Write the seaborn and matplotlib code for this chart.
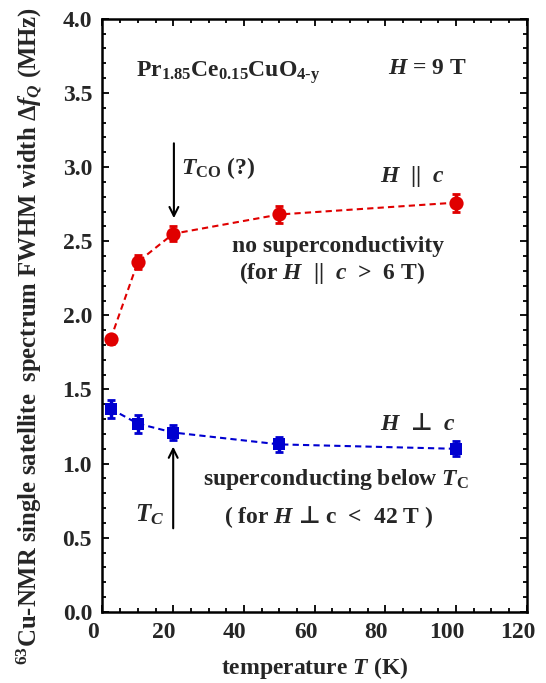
import numpy as np
import pandas as pd
import matplotlib
matplotlib.use("Agg")
import matplotlib.pyplot as plt
import matplotlib.transforms as mtransforms
from matplotlib.ticker import MultipleLocator
import seaborn as sns

# =========================================
# DATA
# =========================================

temp = [2.3, 10.0, 20.0, 50.0, 100.0]

width_par = [1.84, 2.36, 2.55, 2.68, 2.76]      # H || c
err_par = [0.03, 0.05, 0.05, 0.06, 0.06]

width_perp = [1.37, 1.27, 1.21, 1.13, 1.10]     # H perp c
err_perp = [0.06, 0.06, 0.05, 0.05, 0.05]

red = "#e00000"
blue = "#0000d0"

df = pd.DataFrame({
    "T": temp * 2,
    "width": width_par + width_perp,
    "field": ["par"] * 5 + ["perp"] * 5,
})

# =========================================
# STYLE
# =========================================

sns.set_style("ticks")
plt.rcParams["font.family"] = ["Liberation Serif", "DejaVu Serif"]
plt.rcParams["font.weight"] = "bold"
plt.rcParams["mathtext.fontset"] = "custom"
plt.rcParams["mathtext.rm"] = "Liberation Serif:bold"
plt.rcParams["mathtext.bf"] = "Liberation Serif:bold"
plt.rcParams["mathtext.it"] = "Liberation Serif:italic:bold"
plt.rcParams["mathtext.sf"] = "DejaVu Sans"   # only used for the perp sign

fig = plt.figure(figsize=(5.46, 6.83), dpi=100)
ax = fig.add_axes([0.1877, 0.1040, 0.7770, 0.8686])

# =========================================
# LINES, MARKERS, ERROR BARS
# =========================================

sns.lineplot(data=df, x="T", y="width", hue="field",
             palette={"par": red, "perp": blue},
             linestyle=(0, (3, 2)), lw=1.5, legend=False, ax=ax)

ax.errorbar(temp, width_par, yerr=err_par, fmt="none",
            ecolor=red, elinewidth=2.5, capsize=3, capthick=2, zorder=3)
ax.errorbar(temp, width_perp, yerr=err_perp, fmt="none",
            ecolor=blue, elinewidth=2.5, capsize=3, capthick=2, zorder=3)

sns.scatterplot(x=temp, y=width_par, marker="o", s=105, color=red,
                edgecolor=red, linewidth=0, zorder=4, ax=ax)
sns.scatterplot(x=temp, y=width_perp, marker="s", s=85, color=blue,
                edgecolor=blue, linewidth=0, zorder=4, ax=ax)

# =========================================
# AXES
# =========================================

ax.set_xlim(0, 120)
ax.set_ylim(0, 4.0)
ax.xaxis.set_major_locator(MultipleLocator(20))
ax.xaxis.set_minor_locator(MultipleLocator(5))
ax.yaxis.set_major_locator(MultipleLocator(0.5))
ax.yaxis.set_minor_locator(MultipleLocator(0.1))
ax.yaxis.set_major_formatter(matplotlib.ticker.FormatStrFormatter("%.1f"))

ax.tick_params(which="both", direction="in", top=True, right=True,
               labelsize=17, width=1.3, color="black")
ax.tick_params(which="major", length=5)
ax.tick_params(which="minor", length=3.2)
ax.tick_params(axis="x", pad=7)
ax.tick_params(axis="y", pad=7.5)

for sp in ax.spines.values():
    sp.set_linewidth(1.8)
    sp.set_color("black")

ax.set_xlabel(r"temperature $T$ (K)", fontsize=17, fontweight="bold")
ax.xaxis.set_label_coords(0.5, -0.072)

ax.set_ylabel(r"$^{63}$Cu-NMR single satellite  spectrum FWHM width $\mathit{Δf}_{\mathit{Q}}$ (MHz)",
              fontsize=17.8, fontweight="bold", va="center")
ax.yaxis.set_label_coords(-0.171, 0.466)

# x tick labels sit a little left of their ticks in the original
shift = mtransforms.ScaledTranslation(-0.09, 0, fig.dpi_scale_trans)
for lab in ax.get_xticklabels():
    lab.set_transform(lab.get_transform() + shift)

# =========================================
# ANNOTATIONS
# =========================================

fs = 17
ax.text(9.4, 3.61, r"Pr$_{1.85}$Ce$_{0.15}$CuO$_{\mathrm{4}\text{-}\mathrm{y}}$",
        fontsize=fs, va="baseline")
ax.text(80.9, 3.63, r"$H$ = 9 T", fontsize=fs, va="baseline")

ax.text(22.2, 2.95, r"$T_{\mathrm{CO}}$ (?)", fontsize=fs, va="baseline")
ax.annotate("", xy=(20.2, 2.655), xytext=(20.2, 3.16),
            arrowprops=dict(arrowstyle="->", lw=1.5, color="black",
                            mutation_scale=16, shrinkA=0, shrinkB=0))

ax.text(78.4, 2.90, r"$H$  ||  $c$", fontsize=fs, va="baseline")
ax.text(66.5, 2.43, "no superconductivity", fontsize=fs,
        ha="center", va="baseline")
ax.text(65, 2.243, r"(for $H$  ||  $c$  >  6 T)", fontsize=fs,
        ha="center", va="baseline")

ax.text(78.4, 1.227, r"$H$  $\mathsf{⊥}$  $c$", fontsize=fs, va="baseline")
ax.text(66, 0.856, r"superconducting below $T_{\mathrm{C}}$", fontsize=fs,
        ha="center", va="baseline")
ax.text(64, 0.598, r"( for $H$ $\mathsf{⊥}$ c  <  42 T )", fontsize=fs,
        ha="center", va="baseline")

ax.text(9.3, 0.609, r"$T_C$", fontsize=fs + 1, va="baseline")
ax.annotate("", xy=(20.0, 1.115), xytext=(20.0, 0.564),
            arrowprops=dict(arrowstyle="->", lw=1.5, color="black",
                            mutation_scale=16, shrinkA=0, shrinkB=0))

fig.savefig("out.png", dpi=100)
